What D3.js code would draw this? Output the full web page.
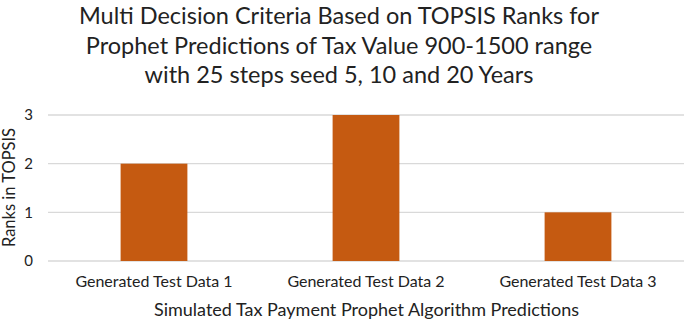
<!DOCTYPE html>
<html><head><meta charset="utf-8">
<script src="https://cdn.jsdelivr.net/npm/d3@7"></script>
<style>body{margin:0;background:#fff}svg{display:block}text{font-family:Lato,"Open Sans",sans-serif;fill:#222}</style>
</head><body><div id="chart"></div>
<script>
const categories = ["Generated Test Data 1", "Generated Test Data 2", "Generated Test Data 3"];
const ranks = [2, 3, 1];
const yTicks = [0, 1, 2, 3];
const titleLines = ["Multi Decision Criteria Based on TOPSIS Ranks for", "Prophet Predictions of Tax Value 900-1500 range", "with 25 steps seed 5, 10 and 20 Years"];
const xTitle = "Simulated Tax Payment Prophet Algorithm Predictions";
const yTitle = "Ranks in TOPSIS";

const W = 685, H = 321;
const m = {left: 48, right: 1, top: 115, bottom: 60};
const svg = d3.select("#chart").append("svg").attr("width", W).attr("height", H);

const x = d3.scaleBand().domain(categories).range([m.left, W - m.right]).paddingInner(0.685).paddingOuter(0.3425);
const y = d3.scaleLinear().domain([0, 3]).range([H - m.bottom, m.top]);

svg.append("g").selectAll("line").data(yTicks).join("line")
  .attr("x1", m.left).attr("x2", W - m.right)
  .attr("y1", d => y(d)).attr("y2", d => y(d))
  .attr("stroke", "#d9d9d9").attr("stroke-width", 1.4);

svg.append("g").selectAll("rect").data(ranks).join("rect")
  .attr("x", (d, i) => x(categories[i])).attr("width", x.bandwidth())
  .attr("y", d => y(d)).attr("height", d => y(0) - y(d))
  .attr("fill", "#c55a11");

const yAxis = d3.axisLeft(y).tickValues(yTicks).tickFormat(d3.format("d")).tickSize(0).tickPadding(15);
const gy = svg.append("g").attr("transform", `translate(${m.left},0)`).call(yAxis);
gy.select(".domain").remove();
gy.selectAll("text").style("font-size", "15px").attr("fill", "#222");

const xAxis = d3.axisBottom(x).tickSize(0).tickPadding(15);
const gx = svg.append("g").attr("transform", `translate(0,${y(0)})`).call(xAxis);
gx.select(".domain").remove();
gx.selectAll("text").style("font-size", "16px").attr("fill", "#222");

svg.append("g").selectAll("text").data(titleLines).join("text")
  .attr("x", 339).attr("y", (d, i) => 24 + i * 29.5)
  .attr("text-anchor", "middle").style("font-size", "23.5px").text(d => d);

svg.append("text").attr("x", 366.5).attr("y", 316).attr("text-anchor", "middle")
  .style("font-size", "18px").text(xTitle);

svg.append("text").attr("transform", `translate(15,187.5) rotate(-90)`).attr("text-anchor", "middle")
  .style("font-size", "16.5px").text(yTitle);
</script></body></html>
